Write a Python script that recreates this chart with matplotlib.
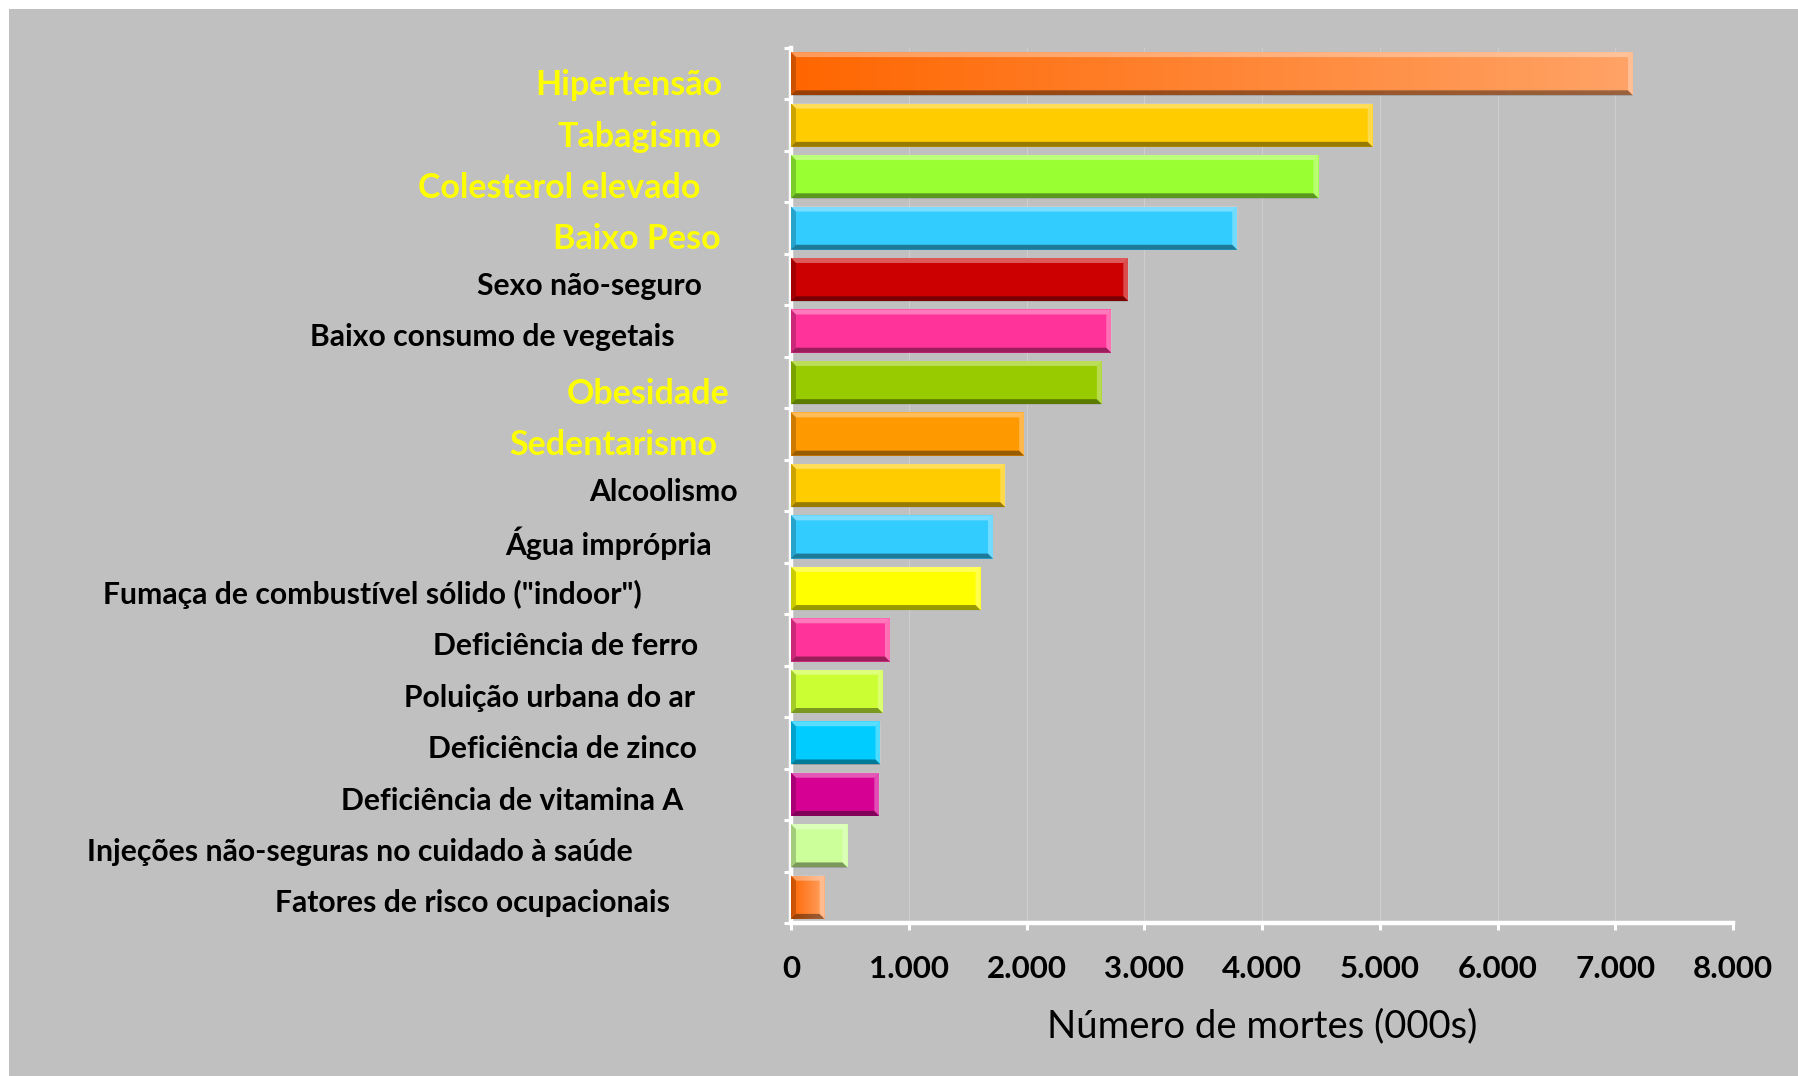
import numpy as np
import matplotlib.pyplot as plt
from matplotlib.patches import Polygon, Rectangle
from matplotlib.colors import LinearSegmentedColormap
import matplotlib.transforms as mtransforms

# dados (mortes em milhares)
fatores = ["Hipertensão", "Tabagismo", "Colesterol elevado", "Baixo Peso",
           "Sexo não-seguro", "Baixo consumo de vegetais", "Obesidade",
           "Sedentarismo", "Alcoolismo", "Água imprópria",
           "Fumaça de combustível sólido (\"indoor\")", "Deficiência de ferro",
           "Poluição urbana do ar", "Deficiência de zinco",
           "Deficiência de vitamina A", "Injeções não-seguras no cuidado à saúde",
           "Fatores de risco ocupacionais"]
mortes = [7150, 4940, 4480, 3790, 2865, 2720, 2640, 1980, 1820, 1715,
          1610, 840, 780, 760, 750, 480, 285]
cores = ["#FF6600", "#FFCC00", "#99FF33", "#33CCFF", "#CC0000", "#FF3399",
         "#99CC00", "#FF9900", "#FFCC00", "#33CCFF", "#FFFF00", "#FF3399",
         "#CCFF33", "#00CCFF", "#D60093", "#CCFF99", "#FF6600"]
gradiente = [True] + [False] * 15 + [True]
destaque = [True, True, True, True, False, False, True, True, False, False,
            False, False, False, False, False, False, False]
x_ticks = [0, 1000, 2000, 3000, 4000, 5000, 6000, 7000, 8000]
x_labels = ["0", "1.000", "2.000", "3.000", "4.000", "5.000", "6.000",
            "7.000", "8.000"]

# borda direita de cada rótulo (pixels da figura)
label_right = [722, 722, 700, 721, 702, 675, 730, 717, 738, 712, 642, 698,
               695, 697, 683, 633, 670]

W, H = 1798, 1076
fig = plt.figure(figsize=(W / 100, H / 100), dpi=100)
fig.patch.set_facecolor("white")
fig.patches.append(Rectangle((9 / W, 0), 1, 1 - 9 / H, transform=fig.transFigure,
                             facecolor="#C0C0C0", edgecolor="none", zorder=-10))

left, right = 791 / W, 1733 / W
bottom, top = 1 - 923 / H, 1 - 48 / H
ax = fig.add_axes([left, bottom, right - left, top - bottom])
ax.set_facecolor("#C0C0C0")

n = len(fatores)
y = np.arange(n)

# tamanho do chanfro em unidades de dados
px_x = 8000 / (1733 - 791)
px_y = n / (923 - 48)
bx, by = 5 * px_x, 5 * px_y
h = 0.42

bars = ax.barh(y, mortes, height=2 * h, color=cores, edgecolor="none", zorder=3)

grad_cmap = LinearSegmentedColormap.from_list("lar", ["#FF6600", "#FFA366"])
for i, (b, v) in enumerate(zip(bars, mortes)):
    if gradiente[i]:
        im = ax.imshow(np.linspace(0, 1, 256).reshape(1, -1), cmap=grad_cmap,
                       extent=(0, v, y[i] + h, y[i] - h), aspect="auto",
                       zorder=3.5)
        im.set_clip_path(b)
    yt, yb = y[i] - h, y[i] + h
    faces = [
        ([(0, yt), (v, yt), (v - bx, yt + by), (bx, yt + by)], "white", 0.35),
        ([(0, yb), (v, yb), (v - bx, yb - by), (bx, yb - by)], "black", 0.4),
        ([(0, yt), (bx, yt + by), (bx, yb - by), (0, yb)], "black", 0.2),
        ([(v, yt), (v - bx, yt + by), (v - bx, yb - by), (v, yb)], "white", 0.3),
    ]
    for pts, c, a in faces:
        ax.add_patch(Polygon(pts, closed=True, facecolor=c, alpha=a,
                             edgecolor="none", zorder=4))

ax.set_xlim(0, 8000)
ax.set_ylim(n - 0.5, -0.5)
ax.set_xticks(x_ticks)
ax.set_xticklabels(x_labels, fontfamily="Lato", fontweight="bold", fontsize=22.5)
ax.set_yticks(np.arange(n + 1) - 0.5)
ax.set_yticklabels([])
ax.tick_params(axis="both", colors="white", width=2.2, length=5,
               direction="out")
ax.tick_params(axis="x", pad=18, labelcolor="black")
ax.xaxis.grid(True, color="#CECECE", linewidth=0.8, zorder=0)
ax.set_axisbelow(True)

for s in ["top", "right"]:
    ax.spines[s].set_visible(False)
for s in ["left", "bottom"]:
    ax.spines[s].set_color("white")
    ax.spines[s].set_linewidth(3.2)

ax.set_xlabel("Número de mortes (000s)", fontfamily="Lato", fontsize=27.5,
              labelpad=18)

trans = mtransforms.blended_transform_factory(fig.transFigure, ax.transData)
for i, nome in enumerate(fatores):
    if destaque[i]:
        ax.text(label_right[i] / W, y[i] + 0.22, nome, transform=trans,
                ha="right", va="center", color="#FFFF00", fontfamily="Lato",
                fontweight="bold", fontsize=24.5)
    else:
        ax.text(label_right[i] / W, y[i] + 0.12, nome, transform=trans,
                ha="right", va="center", color="black", fontfamily="Lato",
                fontweight="bold", fontsize=21.7)

fig.savefig("out.png", dpi=100)
